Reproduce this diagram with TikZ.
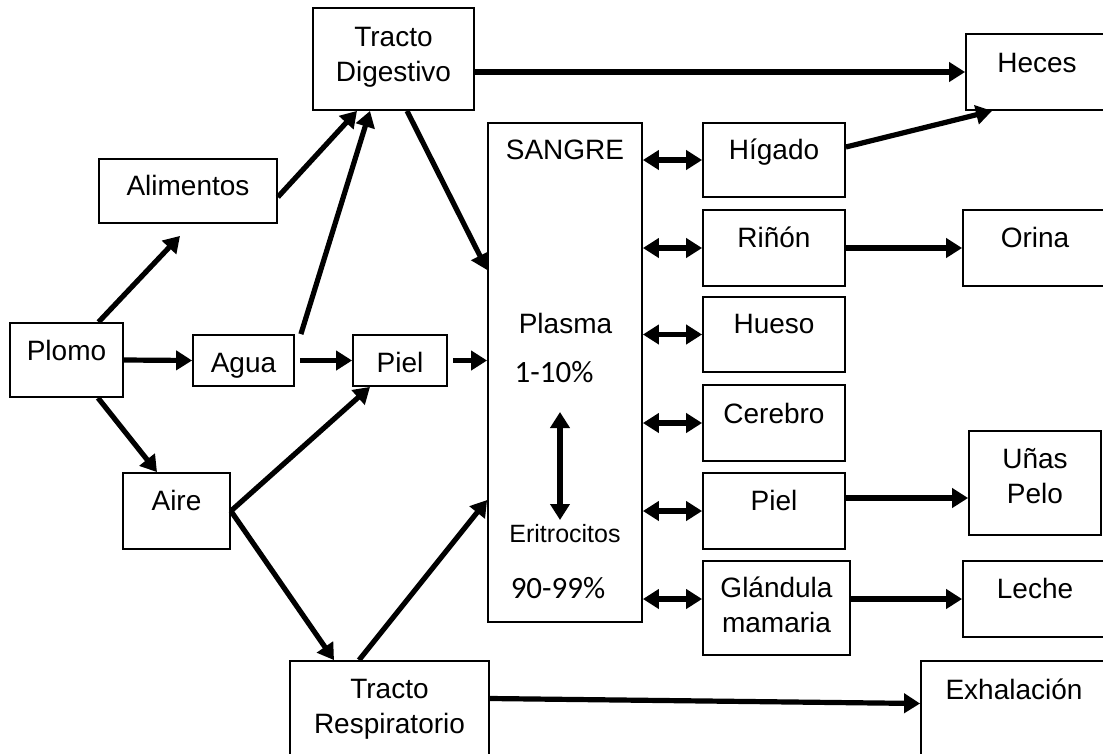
\documentclass[tikz,border=0pt]{standalone}
\usepackage{fontspec}
\setmainfont{Liberation Sans}
\newfontfamily\calibri{Carlito}
\usetikzlibrary{arrows.meta,calc}

\begin{document}
\begin{tikzpicture}[x=1pt,y=-1pt,
    box/.style={draw,line width=1.8pt,inner sep=0pt,align=center,font=\fontsize{28}{35}\selectfont},
    lbl/.style={anchor=base,inner sep=0pt,font=\fontsize{28}{35}\selectfont},
    pct/.style={anchor=base,inner sep=0pt,font=\calibri\fontsize{31}{36}\selectfont},
    arr/.style={-{Triangle[length=16pt,width=19pt]},line width=5.2pt},
    dbl/.style={{Triangle[length=16pt,width=19pt]}-{Triangle[length=16pt,width=19pt]},line width=5.2pt}]
  \useasboundingbox (0,0) rectangle (1103,753);

  % sources
  \node[box,minimum width=113pt,text height=37pt,text depth=37pt] (plomo) at (66.5,360) {Plomo};
  \node[box,minimum width=178pt,text height=36pt,text depth=28pt] (alim) at (188,191) {Alimentos};
  \node[box,minimum width=101pt,text height=37pt,text depth=14pt] (agua) at (243.5,360.5) {Agua};
  \node[box,minimum width=107pt,text height=37pt,text depth=39pt] (aire) at (176.5,511) {Aire};
  \node[box,minimum width=94pt,text height=37pt,text depth=14pt] (pieli) at (400,360.5) {Piel};
  \node[box,minimum width=161pt,text height=73pt,text depth=29pt] (td) at (393.5,59) {Tracto\\Digestivo};
  \node[box,minimum width=199pt,text height=72pt,text depth=27pt] (tr) at (389.5,710.5) {Tracto\\Respiratorio};

  % blood
  \node[box,minimum width=154pt,minimum height=499pt] (sangre) at (565,372.5) {};
  \node[lbl] (tsangre) at (565,159) {SANGRE};
  \node[lbl] (tplasma) at (565.5,333) {Plasma};
  \node[pct] (tpct1) at (554,382) {1-10\%};
  \node[lbl,font=\fontsize{25}{30}\selectfont] (teri) at (565,542) {Eritrocitos};
  \node[pct] (tpct2) at (558,598) {90-99\%};
  \coordinate (ptop) at (560,412);
  \coordinate (pbot) at (560,520);

  % organs
  \node[box,minimum width=142pt,text height=36pt,text depth=38pt] (higado) at (774,160) {Hígado};
  \node[box,minimum width=142pt,text height=37pt,text depth=39pt] (rinon) at (774,248) {Riñón};
  \node[box,minimum width=142pt,text height=36pt,text depth=39pt] (hueso) at (774,334.5) {Hueso};
  \node[box,minimum width=142pt,text height=38pt,text depth=38pt] (cerebro) at (774,423) {Cerebro};
  \node[box,minimum width=142pt,text height=37pt,text depth=39pt] (pielr) at (774,511) {Piel};
  \node[box,minimum width=147pt,text height=71pt,text depth=23pt] (glandula) at (776.5,608) {Glándula\\mamaria};

  % excretion
  \node[box,minimum width=142pt,text height=38pt,text depth=38pt] (heces) at (1037,72) {Heces};
  \node[box,minimum width=144pt,text height=37pt,text depth=39pt] (orina) at (1035,248) {Orina};
  \node[box,minimum width=132pt,text height=72pt,text depth=32pt] (unas) at (1035,483) {Uñas\\Pelo};
  \node[box,minimum width=144pt,text height=37pt,text depth=39pt] (leche) at (1035,599) {Leche};
  \node[box,minimum width=186pt,text height=38pt,text depth=61pt] (exhal) at (1014,710.5) {Exhalación};

  % intake
  \draw[arr] ([xshift=32pt]plomo.north) -- ([xshift=-8pt,yshift=-12pt]alim.south);
  \draw[arr] (plomo.east) -- (agua.west);
  \draw[arr] ([xshift=31.5pt]plomo.south) -- ([xshift=-19.5pt]aire.north);
  \draw[arr] ([yshift=-6pt]alim.east) -- ([xshift=-36.5pt]td.south);
  \draw[arr] ([xshift=6pt]agua.north east) -- ([xshift=-23.5pt]td.south);
  \draw[arr,shorten <=5pt] (agua.east) -- (pieli.west);
  \draw[arr,shorten <=5pt] (pieli.east) -- (sangre.west |- pieli.east);
  \draw[arr] (aire.east) -- ([xshift=-30pt]pieli.south);
  \draw[arr] (aire.east) -- ([xshift=-55.5pt]tr.north);
  \draw[arr] ([xshift=13.5pt]td.south) -- ([yshift=102.5pt]sangre.west);
  \draw[arr] ([xshift=-30.5pt]tr.north) -- ([yshift=-127.5pt]sangre.west);
  \draw[dbl] (ptop) -- (pbot);

  % exchange with organs
  \draw[dbl] (sangre.east |- higado) -- (higado.west);
  \draw[dbl] (sangre.east |- rinon) -- (rinon.west);
  \draw[dbl] (sangre.east |- hueso) -- (hueso.west);
  \draw[dbl] (sangre.east |- cerebro) -- (cerebro.west);
  \draw[dbl] (sangre.east |- pielr) -- (pielr.west);
  \draw[dbl] (sangre.east |- leche) -- (glandula.west |- leche);

  % elimination
  \draw[arr] (td.east |- heces) -- (heces.west);
  \draw[arr] ([yshift=13pt]higado.east) -- ([xshift=-45pt]heces.south);
  \draw[arr] (rinon.east) -- (orina.west);
  \draw[arr] ([yshift=13pt]pielr.east) -- ([yshift=-15pt]unas.west);
  \draw[arr] (glandula.east |- leche) -- (leche.west);
  \draw[arr] ([yshift=12pt]tr.east) -- ([yshift=7pt]exhal.west);
\end{tikzpicture}
\end{document}
